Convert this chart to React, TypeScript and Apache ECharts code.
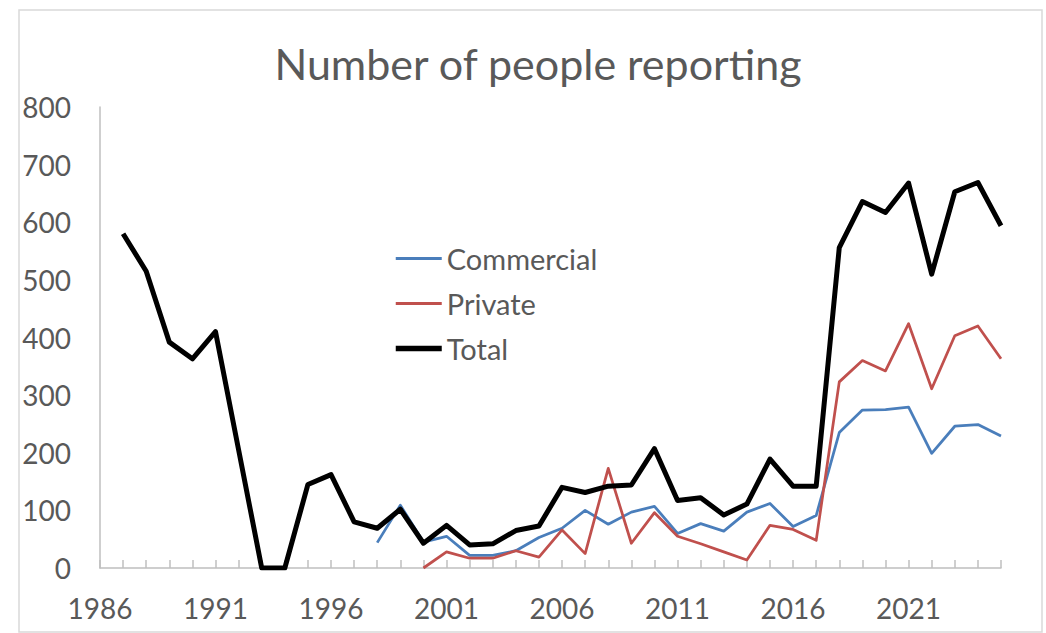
import React, { useEffect, useRef } from "react";
import * as echarts from "echarts";

const years: string[] = [];
for (let y = 1986; y <= 2025; y++) years.push(String(y));

const commercial: (number | null)[] = [
  null, null, null, null, null, null, null, null, null, null, null, null,
  44, 109, 45, 55, 22, 22, 30, 53, 69, 100, 76, 97, 107, 60, 77, 64, 97, 112, 72, 91,
  235, 274, 275, 279, 199, 246, 249, 229,
];

const privateVals: (number | null)[] = [
  null, null, null, null, null, null, null, null, null, null, null, null, null, null,
  0, 28, 17, 17, 30, 19, 66, 25, 173, 43, 96, 55, 42, 28, 14, 74, 67, 48,
  323, 360, 342, 424, 311, 403, 420, 363,
];

const total: (number | null)[] = [
  null, 580, 515, 392, 363, 410, 205, 0, 0, 145, 162, 80, 69, 102, 43, 74, 40, 42, 65, 73,
  140, 131, 142, 144, 207, 117, 122, 92, 111, 189, 142, 142,
  556, 636, 617, 668, 510, 653, 669, 594,
];

const FONT = "Lato, 'Noto Sans', sans-serif";
const TXT = "#595959";
const BLUE = "#4a7ebb";
const RED = "#c0504d";
const BLACK = "#000000";

export default function App() {
  const ref = useRef<HTMLDivElement>(null);
  useEffect(() => {
    if (!ref.current) return;
    const chart = echarts.init(ref.current, null, { renderer: "svg" });
    chart.setOption({
      animation: false,
      backgroundColor: "#ffffff",
      title: {
        text: "Number of people reporting",
        left: 533,
        top: 37,
        textAlign: "center",
        textStyle: { fontFamily: FONT, fontSize: 43, fontWeight: "normal", color: TXT },
      },
      graphic: [
        {
          type: "rect",
          shape: { x: 19, y: 10, width: 1023, height: 622 },
          style: { fill: "none", stroke: "#d9d9d9", lineWidth: 1.5 },
          silent: true,
        },
      ],
      legend: {
        orient: "vertical",
        left: 393,
        top: 244,
        padding: 0,
        itemWidth: 46,
        itemHeight: 14,
        itemGap: 16,
        itemStyle: { opacity: 0 },
        textStyle: { fontFamily: FONT, fontSize: 29, lineHeight: 29, color: TXT },
        data: [
          { name: "Commercial", lineStyle: { color: BLUE, width: 3 } },
          { name: "Private", lineStyle: { color: RED, width: 3 } },
          { name: "Total", lineStyle: { color: BLACK, width: 5.5 } },
        ],
      },
      grid: { left: 100, right: 45, top: 107, bottom: 65 },
      xAxis: {
        type: "category",
        data: years,
        boundaryGap: false,
        axisLine: { lineStyle: { color: "#bfbfbf", width: 1.5 } },
        axisTick: { show: true, inside: true, length: 8, interval: 0, lineStyle: { color: "#bfbfbf", width: 1.5 } },
        axisLabel: { interval: 4, margin: 26, fontFamily: FONT, fontSize: 28, color: TXT },
        splitLine: { show: false },
      },
      yAxis: {
        type: "value",
        min: 0,
        max: 800,
        interval: 100,
        axisLine: { show: true, lineStyle: { color: "#bfbfbf", width: 1.5 } },
        axisTick: { show: false },
        axisLabel: { margin: 29, fontFamily: FONT, fontSize: 28, color: TXT },
        splitLine: { show: false },
      },
      series: [
        {
          name: "Commercial",
          type: "line",
          data: commercial,
          symbol: "none",
          connectNulls: false,
          color: BLUE,
          lineStyle: { color: BLUE, width: 2.75, join: "round" },
        },
        {
          name: "Private",
          type: "line",
          data: privateVals,
          symbol: "none",
          connectNulls: false,
          color: RED,
          lineStyle: { color: RED, width: 2.75, join: "round" },
        },
        {
          name: "Total",
          type: "line",
          data: total,
          symbol: "none",
          connectNulls: false,
          color: BLACK,
          lineStyle: { color: BLACK, width: 5, join: "round" },
        },
      ],
    });
    return () => chart.dispose();
  }, []);
  return (
    <div
      ref={ref}
      style={{ position: "fixed", left: 0, top: 0, width: 1046, height: 633, background: "#fff" }}
    />
  );
}
